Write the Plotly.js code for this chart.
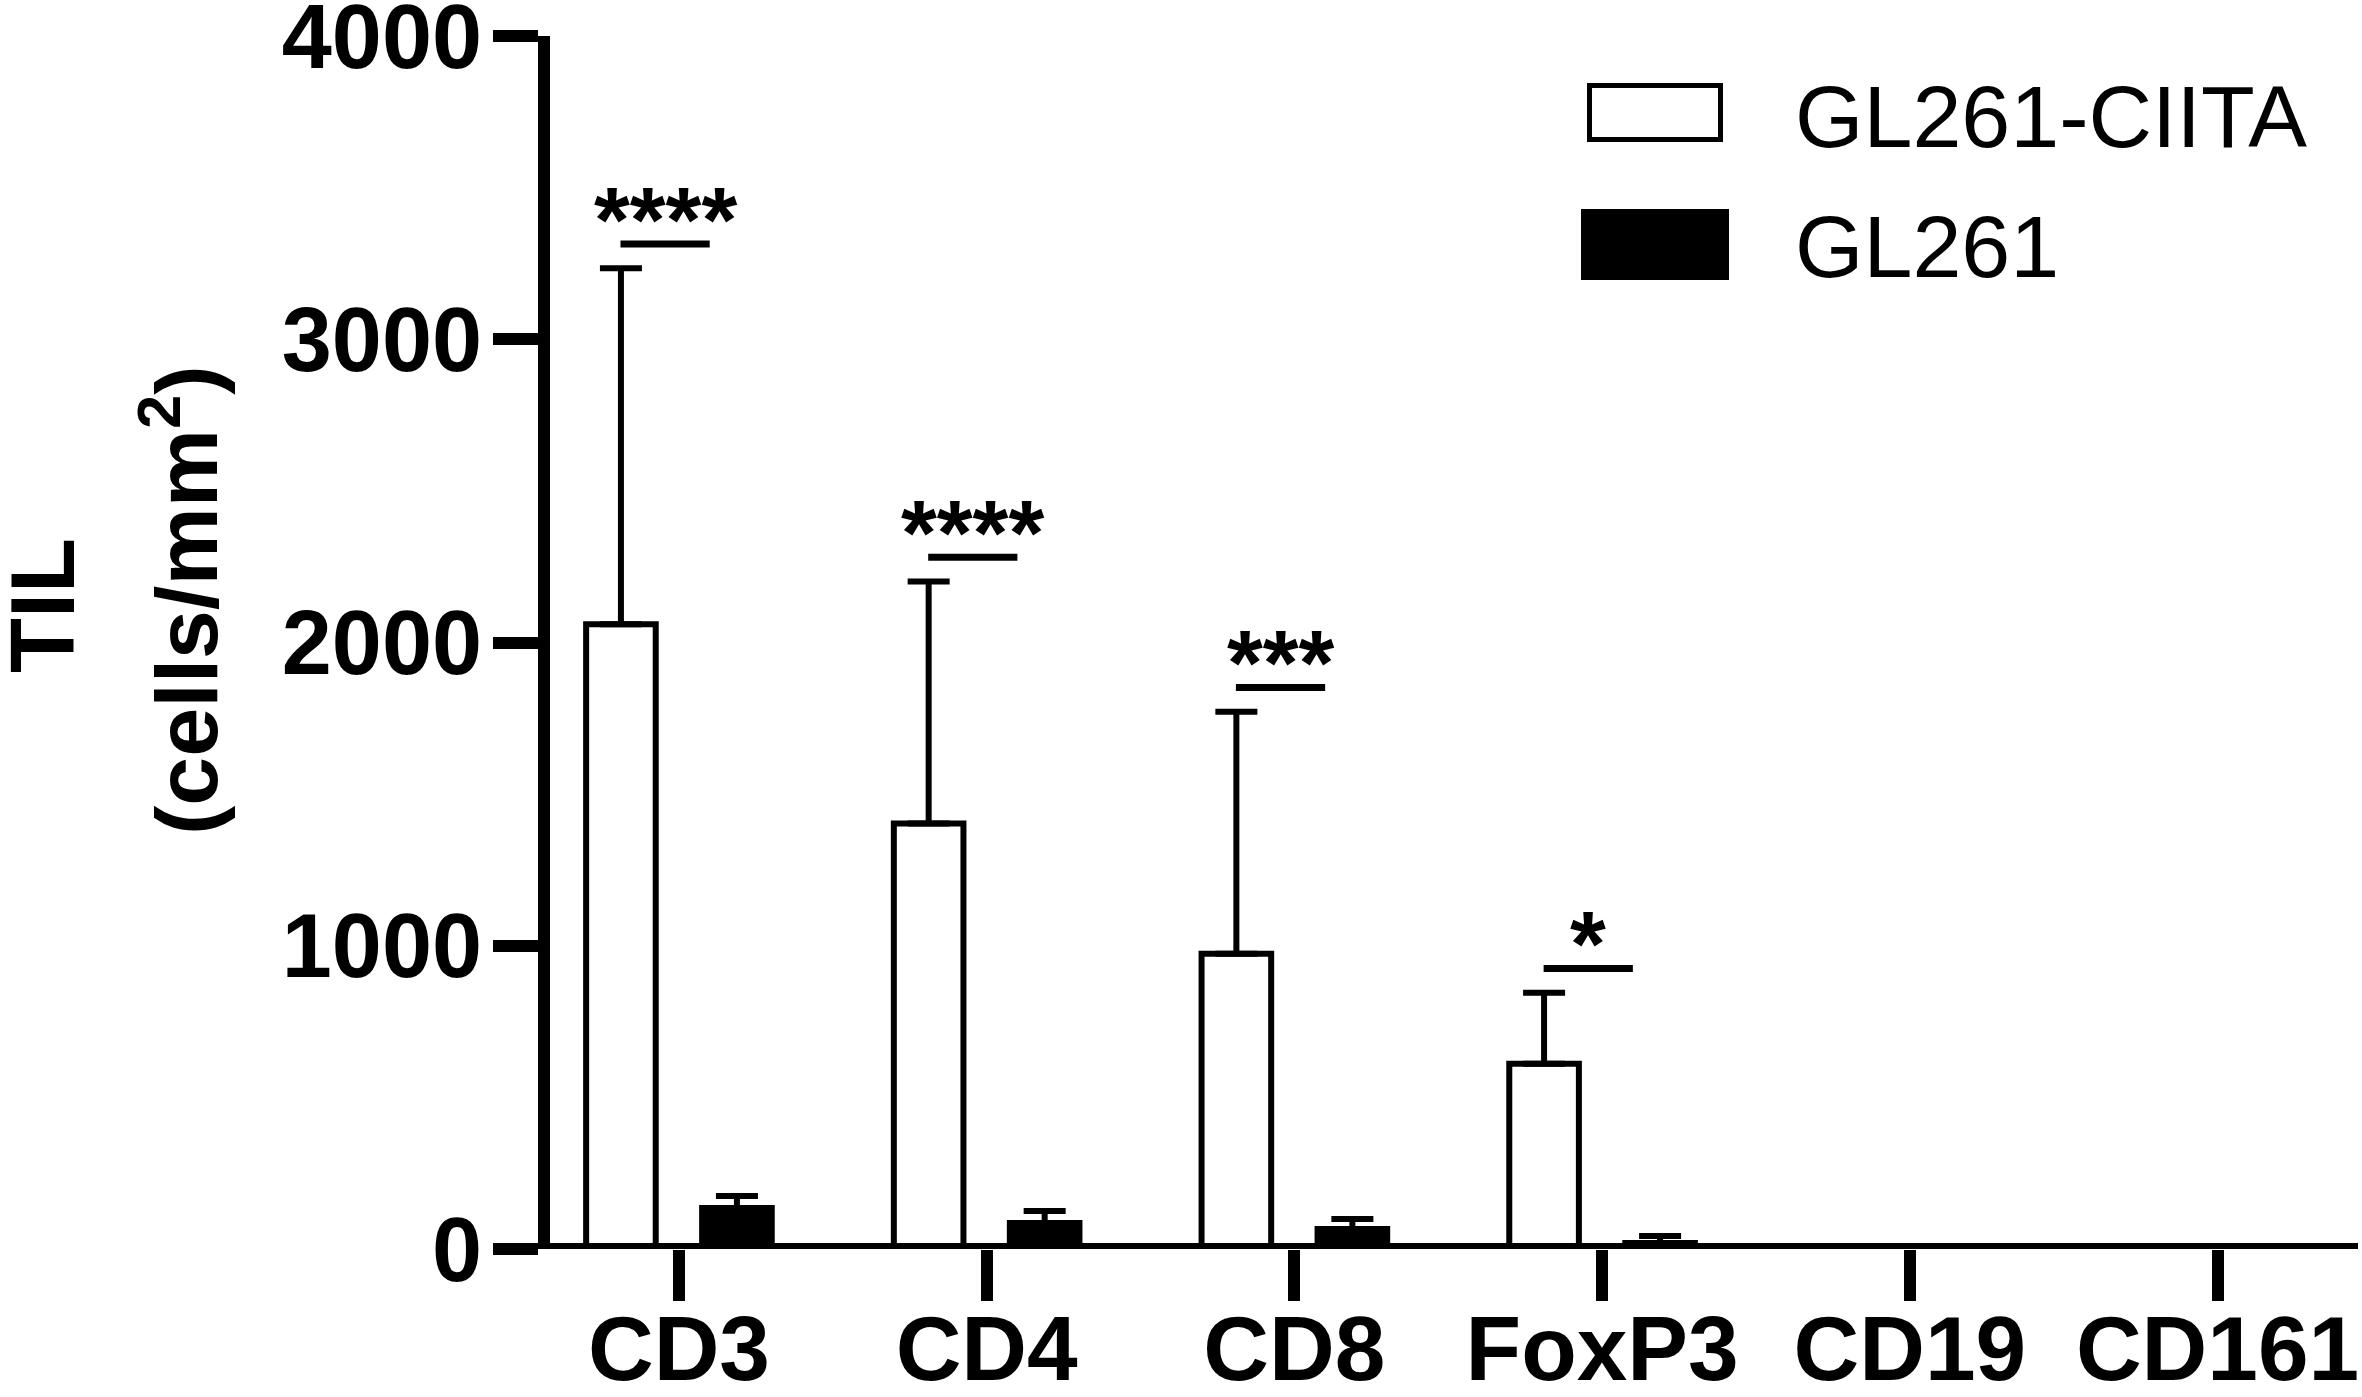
<!DOCTYPE html>
<html>
<head>
<meta charset="utf-8">
<script src="https://cdn.plot.ly/plotly-3.0.1.min.js"></script>
<style>html,body{margin:0;padding:0;background:#fff;}</style>
</head>
<body>
<div id="chart" style="width:2362px;height:1397px;"></div>
<script>
// values (cells/mm2)
let categories = ['CD3', 'CD4', 'CD8', 'FoxP3', 'CD19', 'CD161'];
let ciitaMean = [2060, 1403, 974, 611, 0, 6];
let ciitaSD = [1174, 798, 798, 234, null, null];
let gl261Mean = [135, 86, 66, 20, 0, 0];
let gl261SD = [40, 39, 33, 23, null, null];
let significance = ['****', '****', '***', '*', '', ''];
let seriesNames = ['GL261-CIITA', 'GL261'];
let yTicks = [0, 1000, 2000, 3000, 4000];
let yTitleLines = ['TIL', '(cells/mm<sup>2</sup>)'];

let W = 2362, H = 1397;
let margin = {l: 550, r: 6, t: 36, b: 148};
let plotW = W - margin.l - margin.r;
let plotH = H - margin.t - margin.b;
let fontFamily = 'Liberation Sans, Arial, sans-serif';

// pixel -> paper helpers for the hand-drawn legend and title
let paperX = function (px) { return (px - margin.l) / plotW; };
let paperY = function (py) { return (H - margin.b - py) / plotH; };

let errorStyle = function (arr) {
    return {
        type: 'data',
        symmetric: false,
        array: arr,
        arrayminus: arr.map(function () { return 0; }),
        color: '#000',
        thickness: 6,
        width: 21,
    };
};

let ciitaTrace = {
    type: 'bar',
    name: seriesNames[0],
    x: categories,
    y: ciitaMean,
    marker: {color: '#ffffff', line: {color: '#000', width: 6}},
    error_y: errorStyle(ciitaSD),
};

let gl261Trace = {
    type: 'bar',
    name: seriesNames[1],
    x: categories,
    y: gl261Mean,
    marker: {color: '#000000', line: {color: '#000', width: 6}},
    error_y: errorStyle(gl261SD),
};

let shapes = [];
let annotations = [];

// x axis line drawn through zero
shapes.push({
    type: 'line', xref: 'paper', yref: 'y',
    x0: paperX(538), x1: paperX(2358), y0: 0, y1: 0,
    line: {color: '#000', width: 12},
});

// significance bars and stars
for (let i = 0; i < categories.length; i++) {
    if (!significance[i]) continue;
    let lineY = ciitaMean[i] + ciitaSD[i] + 80;
    shapes.push({
        type: 'line', xref: 'x', yref: 'y',
        x0: i - 0.19, x1: i + 0.10, y0: lineY, y1: lineY,
        line: {color: '#000', width: 7},
    });
    annotations.push({
        xref: 'x', yref: 'y', x: i - 0.045, y: lineY,
        text: significance[i], showarrow: false,
        xanchor: 'center', yanchor: 'bottom', yshift: -29,
        font: {family: fontFamily, size: 92, color: '#000', weight: 'bold'},
    });
}

// legend boxes
shapes.push({
    type: 'rect', xref: 'paper', yref: 'paper',
    x0: paperX(1589.5), x1: paperX(1720.5), y0: paperY(139.5), y1: paperY(85.5),
    fillcolor: '#fff', line: {color: '#000', width: 5},
});
shapes.push({
    type: 'rect', xref: 'paper', yref: 'paper',
    x0: paperX(1581), x1: paperX(1729), y0: paperY(280), y1: paperY(209),
    fillcolor: '#000', line: {color: '#000', width: 0},
});
annotations.push({
    xref: 'paper', yref: 'paper', x: paperX(1794), y: paperY(116),
    text: seriesNames[0], showarrow: false, xanchor: 'left', yanchor: 'middle', borderpad: 0,
    font: {family: fontFamily, size: 88, color: '#000'},
});
annotations.push({
    xref: 'paper', yref: 'paper', x: paperX(1794), y: paperY(246),
    text: seriesNames[1], showarrow: false, xanchor: 'left', yanchor: 'middle', borderpad: 0,
    font: {family: fontFamily, size: 88, color: '#000'},
});

// y axis title, one rotated annotation per line
annotations.push({
    xref: 'paper', yref: 'paper', x: paperX(43), y: paperY(606),
    text: yTitleLines[0], showarrow: false, textangle: -90,
    xanchor: 'center', yanchor: 'middle', borderpad: 0,
    font: {family: fontFamily, size: 90, color: '#000', weight: 'bold'},
});
annotations.push({
    xref: 'paper', yref: 'paper', x: paperX(180), y: paperY(600),
    text: yTitleLines[1], showarrow: false, textangle: -90,
    xanchor: 'center', yanchor: 'middle', borderpad: 0,
    font: {family: fontFamily, size: 88, color: '#000', weight: 'bold'},
});

let layout = {
    width: W,
    height: H,
    margin: margin,
    paper_bgcolor: '#fff',
    plot_bgcolor: '#fff',
    showlegend: false,
    barmode: 'group',
    bargap: 0.246,
    bargroupgap: 0.40,
    font: {family: fontFamily, color: '#000'},
    xaxis: {
        type: 'category',
        range: [-0.419, 5.45],
        showline: false,
        showgrid: false,
        zeroline: false,
        ticks: 'outside',
        ticklen: 51,
        tickwidth: 12,
        tickcolor: '#000',
        ticklabelstandoff: -30,
        ticklabeloverflow: 'allow',
        tickfont: {family: fontFamily, size: 91, color: '#000', weight: 'bold'},
    },
    yaxis: {
        range: [0, 4000],
        showline: true,
        linewidth: 12,
        linecolor: '#000',
        showgrid: false,
        zeroline: false,
        ticks: 'outside',
        ticklen: 45,
        tickwidth: 12,
        tickcolor: '#000',
        tickmode: 'array',
        tickvals: yTicks,
        ticktext: yTicks.map(String),
        ticklabelstandoff: -7,
        ticklabeloverflow: 'allow',
        tickfont: {family: fontFamily, size: 90, color: '#000', weight: 'bold'},
    },
    shapes: shapes,
    annotations: annotations,
};

Plotly.newPlot('chart', [ciitaTrace, gl261Trace], layout, {staticPlot: true});
</script>
</body>
</html>
